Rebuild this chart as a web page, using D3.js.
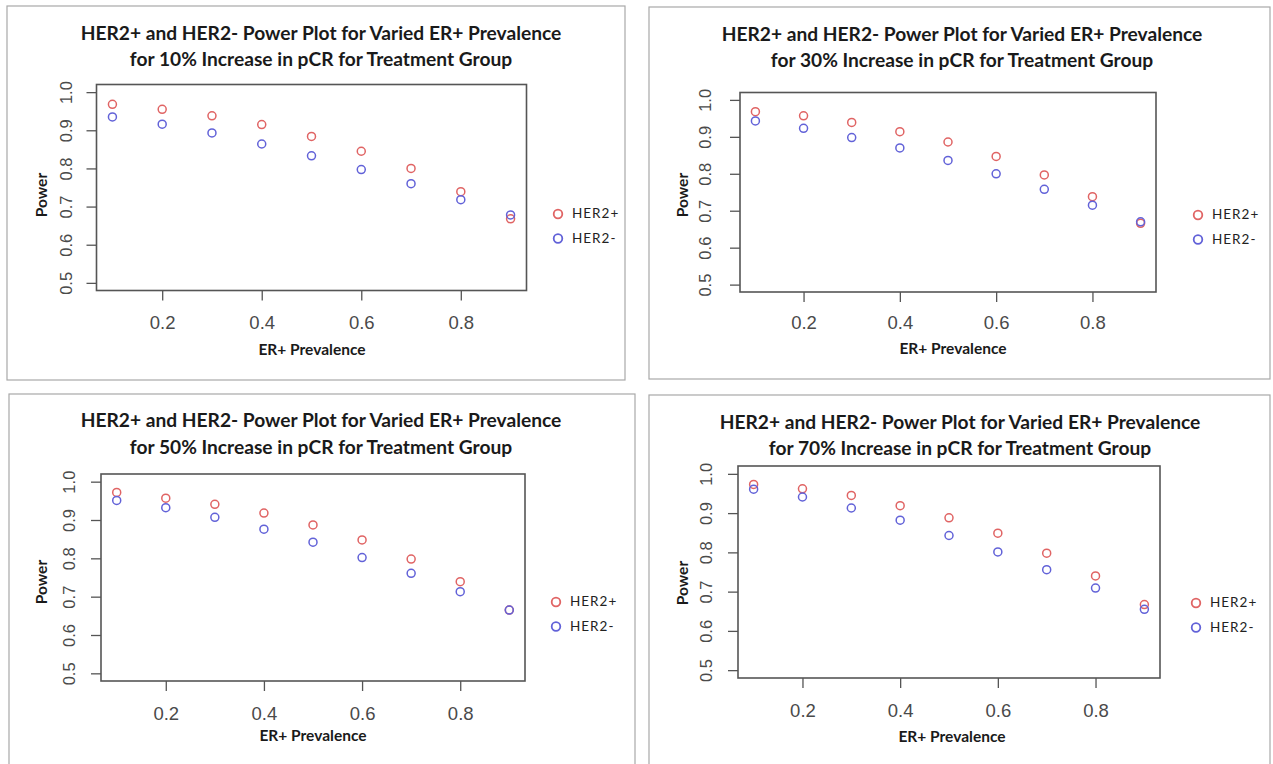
<!DOCTYPE html>
<html>
<head>
<meta charset="utf-8">
<script src="https://cdn.jsdelivr.net/npm/d3@7"></script>
<style>
  body { margin: 0; background: #fff; }
  svg { display: block; }
  .title { font-family: Lato, "Open Sans", sans-serif; font-weight: 700; fill: #1a1a1a; }
  .tick text { font-family: "Liberation Sans", Arial, sans-serif; fill: #4a4a4a; }
  .axis-title { font-family: Lato, sans-serif; font-weight: 700; fill: #1a1a1a; }
  .legend-text { font-family: Lato, sans-serif; fill: #222; letter-spacing: 1px; }
</style>
</head>
<body>
<svg id="chart" width="1273" height="764"></svg>
<script>
// ---- data ----
const erPrevalence = [0.1, 0.2, 0.3, 0.4, 0.5, 0.6, 0.7, 0.8, 0.9];
const pctIncrease = ['10%', '30%', '50%', '70%'];
const seriesNames = ['HER2+', 'HER2-'];

const her2Pos10 = [0.968, 0.955, 0.938, 0.915, 0.884, 0.845, 0.800, 0.739, 0.668];
const her2Neg10 = [0.935, 0.916, 0.893, 0.864, 0.833, 0.797, 0.760, 0.718, 0.678];
const her2Pos30 = [0.968, 0.957, 0.939, 0.914, 0.886, 0.847, 0.797, 0.738, 0.666];
const her2Neg30 = [0.943, 0.923, 0.898, 0.870, 0.836, 0.800, 0.758, 0.715, 0.670];
const her2Pos50 = [0.972, 0.957, 0.941, 0.918, 0.887, 0.848, 0.798, 0.739, 0.665];
const her2Neg50 = [0.951, 0.932, 0.907, 0.876, 0.842, 0.802, 0.761, 0.713, 0.665];
const her2Pos70 = [0.973, 0.962, 0.945, 0.919, 0.888, 0.849, 0.798, 0.740, 0.667];
const her2Neg70 = [0.961, 0.941, 0.913, 0.882, 0.843, 0.801, 0.756, 0.709, 0.655];

const xTicks = [0.2, 0.4, 0.6, 0.8];
const yTicks = [0.5, 0.6, 0.7, 0.8, 0.9, 1.0];

const posSeries = [her2Pos10, her2Pos30, her2Pos50, her2Pos70];
const negSeries = [her2Neg10, her2Neg30, her2Neg50, her2Neg70];

// ---- layout of the four panels ----
const panels = [
  { frame: [7, 6, 625, 380], box: [96.5, 84.5, 526.5, 290.5], titleX: 321, titleY: [32, 58],
    yLabX: 66, powerX: 41, powerY: 195, xLabY: 322, xTitleX: 312, xTitleY: 349, legX: 558, legY: 214 },
  { frame: [649, 7, 1270, 379], box: [740, 92.5, 1156, 292], titleX: 962, titleY: [33, 59],
    yLabX: 705, powerX: 682, powerY: 195, xLabY: 322, xTitleX: 953, xTitleY: 348, legX: 1198, legY: 215 },
  { frame: [9, 394, 635, 775], box: [101, 474, 525, 681], titleX: 321, titleY: [419, 446],
    yLabX: 69, powerX: 41, powerY: 582, xLabY: 713, xTitleX: 313, xTitleY: 735, legX: 556, legY: 602 },
  { frame: [649, 395, 1270, 775], box: [738, 466, 1160, 678], titleX: 960, titleY: [421, 447],
    yLabX: 706, powerX: 682, powerY: 583, xLabY: 710, xTitleX: 952, xTitleY: 736, legX: 1196, legY: 603 }
];

const colors = { pos: '#e06464', neg: '#6262d8' };

const svg = d3.select('#chart');

function fitWidth(sel, target) {
  const w = sel.node().getComputedTextLength();
  const fs = parseFloat(sel.attr('font-size'));
  return fs * target / w;
}

panels.forEach((p, i) => {
  const g = svg.append('g');
  const [fl, ft, fr, fb] = p.frame;
  const [bl, bt, br, bb] = p.box;

  g.append('rect')
    .attr('x', fl).attr('y', ft)
    .attr('width', fr - fl).attr('height', fb - ft)
    .attr('fill', 'none').attr('stroke', '#a8a8a8').attr('stroke-width', 1.2);

  // R style 4% padding on both axes
  const x = d3.scaleLinear().domain([0.068, 0.932]).range([bl, br]);
  const y = d3.scaleLinear().domain([0.48, 1.02]).range([bb, bt]);

  // title
  const t1 = g.append('text').attr('class', 'title')
    .attr('x', p.titleX).attr('y', p.titleY[0])
    .attr('text-anchor', 'middle').attr('dominant-baseline', 'central')
    .attr('font-size', 16)
    .text('HER2+ and HER2- Power Plot for Varied ER+ Prevalence');
  const fs = fitWidth(t1, 481);
  t1.attr('font-size', fs);
  g.append('text').attr('class', 'title')
    .attr('x', p.titleX).attr('y', p.titleY[1])
    .attr('text-anchor', 'middle').attr('dominant-baseline', 'central')
    .attr('font-size', fs)
    .text(`for ${pctIncrease[i]} Increase in pCR for Treatment Group`);

  // axes
  const yAxis = g.append('g')
    .attr('transform', `translate(${bl},0)`)
    .call(d3.axisLeft(y).tickValues(yTicks).tickSize(10).tickSizeOuter(0).tickFormat(d3.format('.1f')));
  yAxis.select('.domain').remove();
  yAxis.selectAll('.tick line').attr('stroke', '#555').attr('stroke-width', 1.3);
  yAxis.selectAll('.tick text')
    .attr('x', null).attr('dy', null)
    .attr('font-size', 16.5)
    .attr('text-anchor', 'middle').attr('dominant-baseline', 'central')
    .attr('transform', `translate(${p.yLabX - bl},0) rotate(-90)`);

  const xAxis = g.append('g')
    .attr('transform', `translate(0,${bb})`)
    .call(d3.axisBottom(x).tickValues(xTicks).tickSize(10).tickSizeOuter(0).tickFormat(d3.format('.1f')));
  xAxis.select('.domain').remove();
  xAxis.selectAll('.tick line').attr('stroke', '#555').attr('stroke-width', 1.3);
  xAxis.selectAll('.tick text')
    .attr('y', p.xLabY - bb).attr('dy', null)
    .attr('font-size', 18.5)
    .attr('dominant-baseline', 'central');

  // plot box
  g.append('rect')
    .attr('x', bl).attr('y', bt)
    .attr('width', br - bl).attr('height', bb - bt)
    .attr('fill', 'none').attr('stroke', '#555').attr('stroke-width', 1.6);

  // axis titles
  g.append('text').attr('class', 'axis-title')
    .attr('transform', `translate(${p.powerX},${p.powerY}) rotate(-90)`)
    .attr('text-anchor', 'middle').attr('dominant-baseline', 'central')
    .attr('font-size', 15.5)
    .text('Power');
  g.append('text').attr('class', 'axis-title')
    .attr('x', p.xTitleX).attr('y', p.xTitleY)
    .attr('text-anchor', 'middle').attr('dominant-baseline', 'central')
    .attr('font-size', 15.5)
    .text('ER+ Prevalence');

  // points: HER2+ first, HER2- drawn over it
  [[posSeries[i], colors.pos], [negSeries[i], colors.neg]].forEach(([vals, col]) => {
    g.append('g').selectAll('circle')
      .data(vals)
      .enter()
      .append('circle')
      .attr('cx', (d, j) => x(erPrevalence[j]))
      .attr('cy', (d) => y(d))
      .attr('r', 4)
      .attr('fill', 'none')
      .attr('stroke', col)
      .attr('stroke-width', 1.5);
  });

  // legend
  const leg = g.append('g').attr('transform', `translate(${p.legX},${p.legY})`);
  leg.selectAll('circle')
    .data(seriesNames)
    .enter()
    .append('circle')
    .attr('cx', 0)
    .attr('cy', (d, j) => j * 24.5)
    .attr('r', 4.3)
    .attr('fill', 'none')
    .attr('stroke', (d, j) => (j === 0 ? colors.pos : colors.neg))
    .attr('stroke-width', 1.8);
  leg.selectAll('text')
    .data(seriesNames)
    .enter()
    .append('text')
    .attr('class', 'legend-text')
    .attr('x', 14)
    .attr('y', (d, j) => j * 24.5 - 1)
    .attr('dominant-baseline', 'central')
    .attr('font-size', 13.5)
    .text((d) => d);
});
</script>
</body>
</html>
